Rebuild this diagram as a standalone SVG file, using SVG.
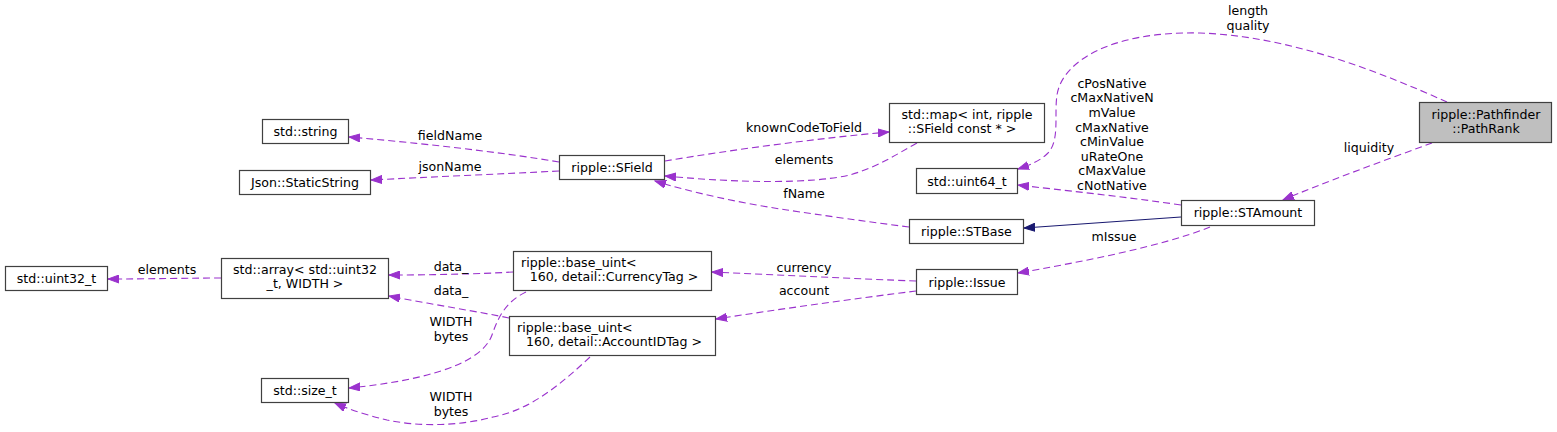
<svg xmlns="http://www.w3.org/2000/svg" width="1557" height="432" viewBox="0 0 1557 432">
<style>
text{font-family:"DejaVu Sans",sans-serif;font-size:12.6px;fill:#000}
.n rect{fill:#fff;stroke:#404040;stroke-width:1.2}
.n text{text-anchor:middle}
.e path{fill:none;stroke:#9a32cd;stroke-width:1.1;stroke-dasharray:7,4}
.e path.inh{stroke:#191970;stroke-dasharray:none}
.lbl text{text-anchor:middle}
</style>
<defs>
<marker id="a" markerWidth="12" markerHeight="9" refX="11" refY="4.5" orient="auto" markerUnits="userSpaceOnUse"><path d="M0,0.5 L11,4.5 L0,8.5 z" fill="#9a32cd" stroke="#9a32cd"/></marker>
<marker id="b" markerWidth="12" markerHeight="9" refX="11" refY="4.5" orient="auto" markerUnits="userSpaceOnUse"><path d="M0,0.5 L11,4.5 L0,8.5 z" fill="#191970" stroke="#191970"/></marker>
</defs>
<g id="connectors" class="e">
<path d="M1447,102 C1380,72 1290,36 1200,33 C1110,31 1062,62 1057,95 C1054,115 1060,140 1048,153 C1040,161 1030,165 1018,169" marker-end="url(#a)"/>
<path d="M1181,205 C1120,196 1060,190 1018,185" marker-end="url(#a)"/>
<path d="M1432,143 C1380,162 1320,184 1283,200" marker-end="url(#a)"/>
<path class="inh" d="M1181,217 L1024,228" marker-end="url(#b)"/>
<path d="M1210,227 C1160,247 1080,262 1018,273" marker-end="url(#a)"/>
<path d="M916,281 C860,279 780,275 712,272" marker-end="url(#a)"/>
<path d="M916,291 C860,298 780,309 716,319" marker-end="url(#a)"/>
<path d="M513,272 C480,274 430,275 389,275" marker-end="url(#a)"/>
<path d="M509,318 C480,312 430,304 389,296" marker-end="url(#a)"/>
<path d="M526,292 C505,302 498,318 492,335 C480,368 410,382 349,388" marker-end="url(#a)"/>
<path d="M590,357 C560,385 530,410 493,417 C460,426 420,427 387,420 C370,416 350,410 335,403" marker-end="url(#a)"/>
<path d="M559,162 C500,152 420,143 349,137" marker-end="url(#a)"/>
<path d="M559,171 C500,174 430,177 371,180" marker-end="url(#a)"/>
<path d="M665,161 C730,150 820,138 889,132" marker-end="url(#a)"/>
<path d="M917,143 C895,155 880,166 850,175 C810,184 740,183 665,176" marker-end="url(#a)"/>
<path d="M909,227 C870,222 820,215 787,210 C740,203 690,192 655,181" marker-end="url(#a)"/>
<path d="M221,278 C190,278 150,279 108,279" marker-end="url(#a)"/>
</g>
<g id="labels" class="lbl">
<text x="1248" y="15">length</text>
<text x="1248" y="29.5">quality</text>
<text x="1112" y="87.7">cPosNative</text>
<text x="1112" y="102.3">cMaxNativeN</text>
<text x="1112" y="116.9">mValue</text>
<text x="1112" y="131.5">cMaxNative</text>
<text x="1112" y="146.1">cMinValue</text>
<text x="1112" y="160.7">uRateOne</text>
<text x="1112" y="175.3">cMaxValue</text>
<text x="1112" y="189.9">cNotNative</text>
<text x="1369" y="152">liquidity</text>
<text x="1114" y="240.5">mIssue</text>
<text x="804" y="272">currency</text>
<text x="804" y="295">account</text>
<text x="451" y="271">data_</text>
<text x="451" y="295">data_</text>
<text x="451" y="326">WIDTH</text>
<text x="451" y="340.5">bytes</text>
<text x="451" y="401">WIDTH</text>
<text x="451" y="415.5">bytes</text>
<text x="450" y="140">fieldName</text>
<text x="450" y="171">jsonName</text>
<text x="804" y="132">knownCodeToField</text>
<text x="804" y="164">elements</text>
<text x="804" y="198">fName</text>
<text x="167" y="274">elements</text>
</g>
<g id="PathRank" class="n"><rect x="1419.5" y="102.5" width="132" height="40" style="fill:#bfbfbf"/><text x="1486" y="118.5">ripple::Pathfinder</text><text x="1486" y="133">::PathRank</text></g>
<g id="STAmount" class="n"><rect x="1181.5" y="200.5" width="133" height="25"/><text x="1248" y="217">ripple::STAmount</text></g>
<g id="uint64" class="n"><rect x="916.5" y="168.5" width="101" height="25"/><text x="967" y="185.5">std::uint64_t</text></g>
<g id="STBase" class="n"><rect x="909.5" y="219.5" width="114" height="24"/><text x="966.5" y="236">ripple::STBase</text></g>
<g id="map" class="n"><rect x="889.5" y="103.5" width="155" height="39"/><text x="967" y="118.5">std::map&lt; int, ripple</text><text x="962" y="133">::SField const * &gt;</text></g>
<g id="SField" class="n"><rect x="559.5" y="155.5" width="105" height="24"/><text x="612" y="172">ripple::SField</text></g>
<g id="CurrencyTag" class="n"><rect x="513.5" y="251.5" width="198" height="39"/><text x="521" y="266.5" style="text-anchor:start">ripple::base_uint&lt;</text><text x="614" y="281">160, detail::CurrencyTag &gt;</text></g>
<g id="AccountIDTag" class="n"><rect x="509.5" y="316.5" width="206" height="39"/><text x="517" y="331.5" style="text-anchor:start">ripple::base_uint&lt;</text><text x="614" y="346">160, detail::AccountIDTag &gt;</text></g>
<g id="Issue" class="n"><rect x="916.5" y="269.5" width="101" height="25"/><text x="967" y="286.5">ripple::Issue</text></g>
<g id="string" class="n"><rect x="262.5" y="119.5" width="86" height="24"/><text x="305.5" y="136">std::string</text></g>
<g id="StaticString" class="n"><rect x="239.5" y="170.5" width="131" height="24"/><text x="305" y="187">Json::StaticString</text></g>
<g id="uint32" class="n"><rect x="5.5" y="266.5" width="102" height="24"/><text x="56.5" y="283">std::uint32_t</text></g>
<g id="array" class="n"><rect x="221.5" y="258.5" width="167" height="40"/><text x="305" y="273.5">std::array&lt; std::uint32</text><text x="305" y="288">_t, WIDTH &gt;</text></g>
<g id="size_t" class="n"><rect x="261.5" y="378.5" width="87" height="24"/><text x="305" y="395">std::size_t</text></g>
</svg>
